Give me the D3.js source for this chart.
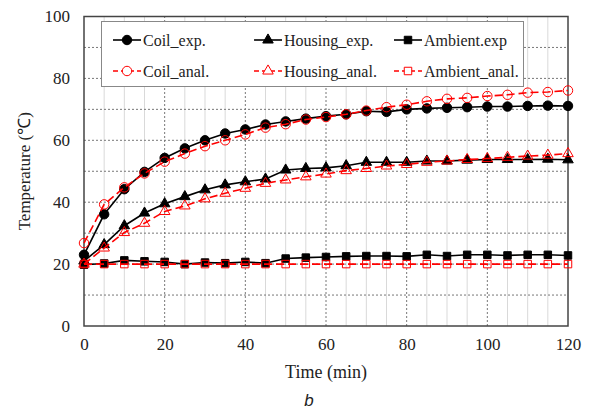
<!DOCTYPE html>
<html>
<head>
<meta charset="utf-8">
<script src="https://cdn.jsdelivr.net/npm/d3@7"></script>
<style>
  body { margin: 0; background: #fff; }
</style>
</head>
<body>
<script>
// Data
const time = [0, 5, 10, 15, 20, 25, 30, 35, 40, 45, 50, 55, 60, 65, 70, 75, 80, 85, 90, 95, 100, 105, 110, 115, 120];
const coilExp = [23, 36.1, 44.2, 49.8, 54.3, 57.4, 60.0, 62.2, 63.5, 65.1, 66.1, 67.0, 67.8, 68.4, 69.4, 69.2, 70.0, 70.3, 70.5, 70.7, 70.9, 70.9, 71.1, 71.2, 71.1];
const coilAnal = [26.8, 39.3, 44.8, 49.3, 53.1, 55.7, 58.1, 60.0, 61.9, 64.1, 65.2, 66.7, 67.5, 68.4, 69.6, 70.7, 71.5, 72.6, 73.4, 73.7, 74.3, 74.7, 75.4, 75.6, 76.1];
const housingExp = [21, 26.3, 32.4, 36.5, 39.5, 41.8, 44.0, 45.6, 46.6, 47.5, 50.4, 50.9, 51.1, 51.8, 52.9, 52.9, 52.9, 53.3, 53.3, 53.6, 53.8, 53.8, 53.8, 53.9, 53.7];
const housingAnal = [20, 25.2, 30.2, 33.2, 37.0, 38.8, 41.1, 42.9, 44.5, 46.1, 47.2, 48.2, 49.1, 50.2, 50.9, 51.7, 52.2, 52.9, 53.3, 53.8, 54.1, 54.5, 54.9, 55.2, 55.7];
const ambientExp = [19.8, 20.2, 21.2, 20.9, 20.7, 20.0, 20.5, 20.3, 20.7, 20.3, 21.8, 22.1, 22.3, 22.5, 22.6, 22.6, 22.5, 23.0, 22.6, 23.0, 23.0, 22.8, 23.0, 23.0, 22.8];
const ambientAnal = [20, 20, 20, 20, 20, 20, 20, 20, 20, 20, 20, 20, 20, 20, 20, 20, 20, 20, 20, 20, 20, 20, 20, 20, 20];
const xTicks = [0, 20, 40, 60, 80, 100, 120];
const yTicks = [0, 20, 40, 60, 80, 100];

const serif = "'Liberation Serif', 'Times New Roman', Times, serif";

const series = [
  { name: "Coil_exp.", values: coilExp, color: "#000", dash: null, symbol: d3.symbolCircle, fill: true },
  { name: "Housing_exp.", values: housingExp, color: "#000", dash: null, symbol: d3.symbolTriangle, fill: true },
  { name: "Ambient.exp", values: ambientExp, color: "#000", dash: null, symbol: d3.symbolSquare, fill: true },
  { name: "Coil_anal.", values: coilAnal, color: "#ff0000", dash: "8,4", symbol: d3.symbolCircle, fill: false },
  { name: "Housing_anal.", values: housingAnal, color: "#ff0000", dash: "8,4", symbol: d3.symbolTriangle, fill: false },
  { name: "Ambient_anal.", values: ambientAnal, color: "#ff0000", dash: "8,4", symbol: d3.symbolSquare, fill: false }
];

const width = 602, height = 412;
const margin = { left: 84, right: 34, top: 16.5, bottom: 86 };

const svg = d3.select("body").append("svg")
    .attr("width", width)
    .attr("height", height);

const x = d3.scaleLinear().domain([0, 120]).range([margin.left, width - margin.right]);
const y = d3.scaleLinear().domain([0, 100]).range([height - margin.bottom, margin.top]);

// Minor vertical grid (every 5 min)
svg.append("g").selectAll("line")
    .data(d3.range(5, 120, 5).filter(t => t % 20 !== 0))
    .enter().append("line")
    .attr("x1", d => x(d)).attr("x2", d => x(d))
    .attr("y1", y(0)).attr("y2", y(100))
    .attr("stroke", "#d9d9d9").attr("stroke-width", 1);

// Major vertical dotted grid
svg.append("g").selectAll("line")
    .data(d3.range(20, 120, 20))
    .enter().append("line")
    .attr("x1", d => x(d)).attr("x2", d => x(d))
    .attr("y1", y(0)).attr("y2", y(100))
    .attr("stroke", "#777").attr("stroke-width", 1).attr("stroke-dasharray", "2,2");

// Horizontal dotted grid (every 10)
svg.append("g").selectAll("line")
    .data(d3.range(10, 100, 10))
    .enter().append("line")
    .attr("x1", x(0)).attr("x2", x(120))
    .attr("y1", d => y(d)).attr("y2", d => y(d))
    .attr("stroke", "#777").attr("stroke-width", 1).attr("stroke-dasharray", "2,2");

// Plot frame
svg.append("rect")
    .attr("x", x(0)).attr("y", y(100))
    .attr("width", x(120) - x(0)).attr("height", y(0) - y(100))
    .attr("fill", "none").attr("stroke", "#444").attr("stroke-width", 1.5);

// Axes (labels only, the frame draws the lines)
const xAxis = svg.append("g")
    .attr("transform", `translate(0,${y(0)})`)
    .call(d3.axisBottom(x).tickValues(xTicks).tickSize(0).tickPadding(12));
const yAxis = svg.append("g")
    .attr("transform", `translate(${x(0)},0)`)
    .call(d3.axisLeft(y).tickValues(yTicks).tickSize(0).tickPadding(14));
[xAxis, yAxis].forEach(a => {
  a.attr("font-family", serif).attr("font-size", 17);
  a.select(".domain").remove();
  a.selectAll("text").attr("fill", "#222");
});

// Lines and markers
const line = d3.line().x((d, i) => x(time[i])).y(d => y(d));
const symSize = s => s.symbol === d3.symbolTriangle ? 48 : (s.symbol === d3.symbolSquare ? 56 : 70);

series.forEach(s => {
  svg.append("path")
      .datum(s.values)
      .attr("d", line)
      .attr("fill", "none")
      .attr("stroke", s.color)
      .attr("stroke-width", 1.6)
      .attr("stroke-dasharray", s.dash);

  svg.append("g").selectAll("path")
      .data(s.values)
      .enter().append("path")
      .attr("transform", (d, i) => `translate(${x(time[i])},${y(d)})`)
      .attr("d", d3.symbol().type(s.symbol).size(symSize(s)))
      .attr("fill", s.fill ? s.color : "none")
      .attr("stroke", s.color)
      .attr("stroke-width", 1);
});

// Legend
const legend = svg.append("g");
legend.append("rect")
    .attr("x", 101.5).attr("y", 21.5)
    .attr("width", 422).attr("height", 65)
    .attr("fill", "#fff").attr("stroke", "#888").attr("stroke-width", 1);

const colX = [113, 254, 394];
const rowY = [40, 71];
series.forEach((s, i) => {
  const lx = colX[i % 3], ly = rowY[Math.floor(i / 3)];
  const g = legend.append("g").attr("transform", `translate(${lx},${ly})`);
  g.append("line")
      .attr("x1", 0).attr("x2", 28).attr("y1", 0).attr("y2", 0)
      .attr("stroke", s.color).attr("stroke-width", 1.6)
      .attr("stroke-dasharray", s.dash ? "5,3" : null);
  g.append("path")
      .attr("transform", "translate(14,0)")
      .attr("d", d3.symbol().type(s.symbol).size(symSize(s)))
      .attr("fill", s.fill ? s.color : "#fff")
      .attr("stroke", s.color).attr("stroke-width", 1);
  g.append("text")
      .attr("x", 30).attr("y", 5.5)
      .attr("font-family", serif)
      .attr("font-size", 16)
      .attr("fill", "#222")
      .text(s.name);
});

// Axis titles
svg.append("text")
    .attr("x", 326).attr("y", 378)
    .attr("text-anchor", "middle")
    .attr("font-family", serif)
    .attr("font-size", 18)
    .attr("fill", "#222")
    .text("Time (min)");

svg.append("text")
    .attr("transform", `translate(30,${y(50)}) rotate(-90)`)
    .attr("text-anchor", "middle")
    .attr("font-family", serif)
    .attr("font-size", 17)
    .attr("fill", "#222")
    .text("Temperature (℃)");

svg.append("text")
    .attr("x", 309).attr("y", 406)
    .attr("text-anchor", "middle")
    .attr("font-family", "'Liberation Sans', Arial, sans-serif")
    .attr("font-style", "italic")
    .attr("font-size", 17)
    .attr("fill", "#222")
    .text("b");
</script>
</body>
</html>
